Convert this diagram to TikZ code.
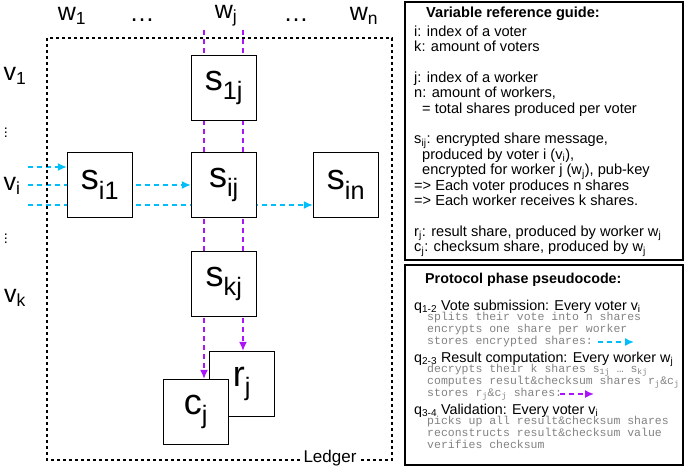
\documentclass[tikz,border=0pt]{standalone}
\usepackage{fontspec}
\setmainfont{Liberation Sans}
\newfontfamily\codefont{Liberation Mono}
\usetikzlibrary{arrows.meta, backgrounds}
\definecolor{sharecol}{RGB}{0,190,250}
\definecolor{calccol}{RGB}{170,20,250}
\definecolor{codegray}{RGB}{130,130,130}
\newcommand{\sub}[1]{\textsubscript{#1}}

\begin{document}
\begin{tikzpicture}[x=1pt, y=-1pt,
    box/.style={draw, line width=1.2pt, fill=white, minimum size=65pt, inner sep=0pt, font=\fontsize{36}{36}\selectfont},
    head/.style={font=\fontsize{25}{25}\selectfont},
    share/.style={sharecol, line width=1.6pt, dash pattern=on 5pt off 4pt, -{Latex[length=9pt, width=8pt]}},
    calc/.style={calccol, line width=1.6pt, dash pattern=on 5pt off 4pt, -{Latex[length=9pt, width=8pt]}},
    panel/.style={draw, line width=1.2pt},
    guide/.style={anchor=north west, align=left, inner sep=0pt, font=\fontsize{14.6}{15.4}\selectfont},
    phase/.style={anchor=base west, inner sep=0pt, font=\fontsize{14.3}{16}\selectfont},
    code/.style={anchor=north west, align=left, inner sep=0pt, text=codegray, font=\codefont\fontsize{11.5}{12}\selectfont}]
  \useasboundingbox (0,0) rectangle (685,467);

  % ledger
  \draw[dashed, line width=1.2pt] (330,460) -| (47,38) -| (392,460) -- (330,460);
  \node[fill=white, font=\fontsize{17}{17}\selectfont] (ledger) at (330,458) {Ledger};

  % worker and voter labels
  \node[head] (w1) at (72,16) {w\sub{1}};
  \node[head] (wdots1) at (142,20) {\ldots};
  \node[head] (wj) at (226,16) {w\sub{j}};
  \node[head] (wdots2) at (296,20) {\ldots};
  \node[head] (wn) at (364,16) {w\sub{n}};
  \node[head] (v1) at (15,76) {v\sub{1}};
  \node[font=\Large] (vdots1) at (6,130) {$\vdots$};
  \node[head] (vi) at (12,186) {v\sub{i}};
  \node[font=\Large] (vdots2) at (6,236) {$\vdots$};
  \node[head] (vk) at (15,298) {v\sub{k}};

  % share boxes
  \node[box] (s1j) at (224,88) {s\sub{1j}};
  \node[box] (si1) at (100,185) {s\sub{i1}};
  \node[box] (sij) at (224,185) {s\sub{ij}};
  \node[box] (sin) at (346,185) {s\sub{in}};
  \node[box] (skj) at (224,284) {s\sub{kj}};
  \node[box] (rj) at (242,384) {r\sub{j}};
  \node[box] (cj) at (196,412) {c\sub{j}};

  % connectors behind the boxes
  \coordinate (mL) at (204,30);
  \coordinate (mR) at (243,30);
  \coordinate (a1) at (28,167);
  \coordinate (a2) at (28,185);
  \coordinate (a3) at (28,205);
  \begin{scope}[on background layer]
    \draw[calc] (mL) -- (mL |- cj.north);
    \draw[calc] (mR) -- (mR |- rj.north);
    \draw[share] (a1) -- (a1 -| si1.west);
    \draw[share] (a2) -- (a2 -| sij.west);
    \draw[share] (a3) -- (a3 -| sin.west);
  \end{scope}

  % right panels
  \draw[panel] (405,2) rectangle (683,260);
  \node[guide] (guide) at (414,7) {\hspace*{12pt}\textbf{Variable reference guide:}\\[3pt]
    i: index of a voter\\
    k: amount of voters\\[15.4pt]
    j: index of a worker\\
    n: amount of workers,\\
    \hspace*{8pt}= total shares produced per voter\\[15.4pt]
    s\sub{ij}: encrypted share message,\\
    \hspace*{8pt}produced by voter i (v\sub{i}),\\
    \hspace*{8pt}encrypted for worker j (w\sub{j}), pub-key\\
    => Each voter produces n shares\\
    => Each worker receives k shares.\\[15.4pt]
    r\sub{j}: result share, produced by worker w\sub{j}\\
    c\sub{j}: checksum share, produced by w\sub{j}};

  \draw[panel] (405,265) rectangle (683,465);
  \node[phase] (ptitle) at (425,283) {\textbf{Protocol phase pseudocode:}};
  \node[phase] (q12) at (414,310) {q\sub{1-2} Vote submission: Every voter v\sub{i}};
  \node[code] (c12) at (427,312) {splits their vote into n shares\\
    encrypts one share per worker\\
    stores encrypted shares:};
  \node[phase] (q23) at (414,362) {q\sub{2-3} Result computation: Every worker w\sub{j}};
  \node[code] (c23) at (427,364) {decrypts their k shares s\sub{1j} \ldots{} s\sub{kj}\\
    computes result\&checksum shares r\sub{j}\&c\sub{j}\\
    stores r\sub{j}\&c\sub{j} shares:};
  \node[phase] (q34) at (414,414) {q\sub{3-4} Validation: Every voter v\sub{i}};
  \node[code] (c34) at (427,416) {picks up all result\&checksum shares\\
    reconstructs result\&checksum value\\
    verifies checksum};
  \coordinate (k1) at (598,342);
  \coordinate (k1e) at (634,342);
  \coordinate (k2) at (560,394);
  \coordinate (k2e) at (594,394);
  \draw[share] (k1) -- (k1e);
  \draw[calc] (k2) -- (k2e);
\end{tikzpicture}
\end{document}
